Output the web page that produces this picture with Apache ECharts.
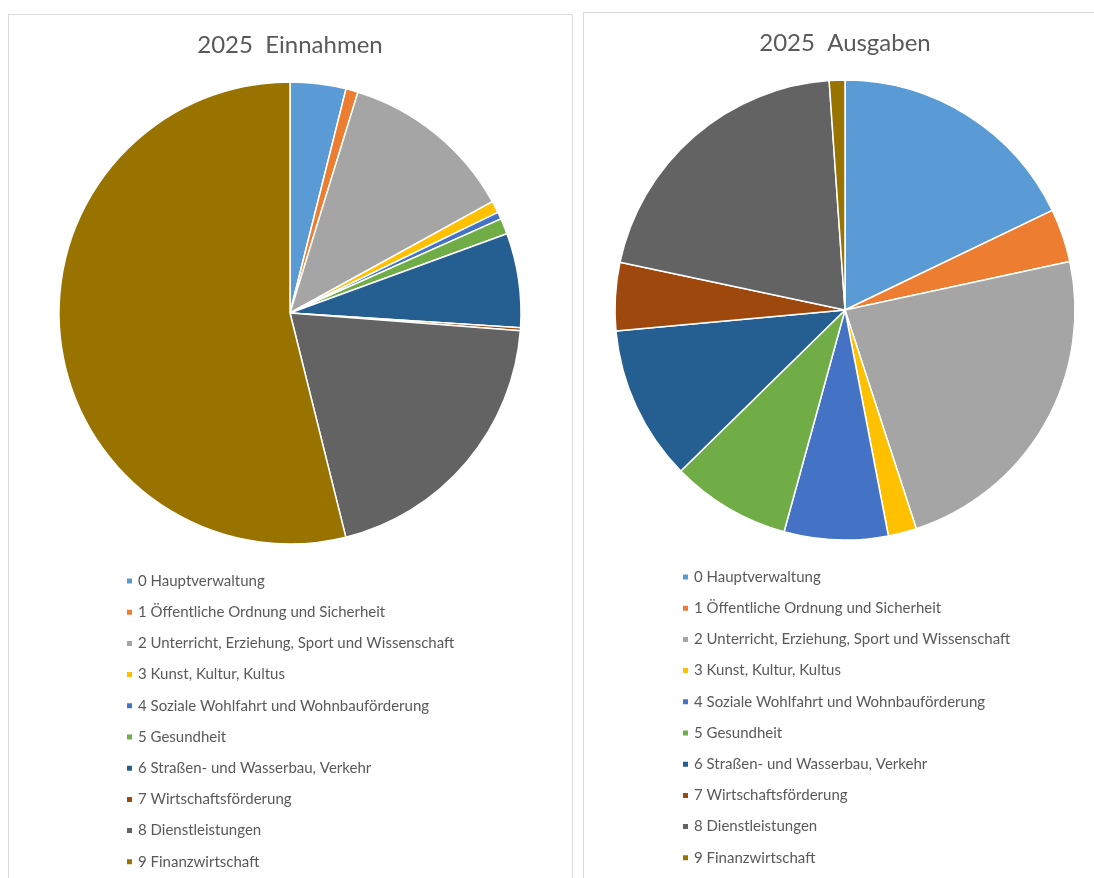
<!DOCTYPE html>
<html>
<head>
<meta charset="utf-8">
<title>2025 Einnahmen / Ausgaben</title>
<script src="https://cdn.jsdelivr.net/npm/echarts@6/dist/echarts.min.js"></script>
<style>
  html, body { margin: 0; padding: 0; background: #fff; }
  #chart { width: 1094px; height: 878px; }
</style>
</head>
<body>
<div id="chart"></div>
<script>
// Budgetgruppen
const categories = [
  '0 Hauptverwaltung',
  '1 Öffentliche Ordnung und Sicherheit',
  '2 Unterricht, Erziehung, Sport und Wissenschaft',
  '3 Kunst, Kultur, Kultus',
  '4 Soziale Wohlfahrt und Wohnbauförderung',
  '5 Gesundheit',
  '6 Straßen- und Wasserbau, Verkehr',
  '7 Wirtschaftsförderung',
  '8 Dienstleistungen',
  '9 Finanzwirtschaft'
]
// Anteile in %, aus dem Bild geschätzt
const einnahmen = [3.9, 0.85, 12.25, 0.83, 0.5, 1.1, 6.6, 0.2, 19.9, 53.9]
const ausgaben = [17.9, 3.75, 23.4, 2.0, 7.3, 8.4, 10.9, 4.8, 20.6, 1.1]
const titles = ['2025  Einnahmen', '2025  Ausgaben']

const colors = ['#5B9BD5', '#ED7D31', '#A5A5A5', '#FFC000', '#4472C4',
  '#70AD47', '#255E91', '#9E480E', '#636363', '#997300']
const font = 'Lato, "Open Sans", sans-serif'

const toData = (vals) => categories.map((name, i) => ({ name, value: vals[i] }))

const pieSeries = (name, vals, center, radius) => ({
  name,
  type: 'pie',
  center,
  radius,
  startAngle: 90,
  clockwise: true,
  label: { show: false },
  labelLine: { show: false },
  emphasis: { disabled: true },
  itemStyle: { borderColor: '#fff', borderWidth: 1.5 },
  data: toData(vals)
})

const legend = (left, top) => ({
  orient: 'vertical',
  left,
  top,
  height: 320,
  padding: 0,
  data: categories,
  icon: 'rect',
  itemWidth: 7,
  itemHeight: 7,
  itemGap: 15.2,
  selectedMode: false,
  textStyle: { color: '#595959', fontSize: 15, fontFamily: font, lineHeight: 16 }
})

const chart = echarts.init(document.getElementById('chart'))
chart.setOption({
  animation: false,
  color: colors,
  graphic: [
    { type: 'rect', shape: { x: 8.5, y: 14.5, width: 564, height: 900 },
      style: { fill: 'none', stroke: '#d9d9d9', lineWidth: 1 }, z: -1 },
    { type: 'rect', shape: { x: 583.5, y: 12.5, width: 600, height: 900 },
      style: { fill: 'none', stroke: '#d9d9d9', lineWidth: 1 }, z: -1 },
    { type: 'text', x: 290, y: 45,
      style: { text: titles[0], fill: '#595959', fontSize: 24, fontFamily: font, align: 'center', verticalAlign: 'middle' } },
    { type: 'text', x: 845, y: 43,
      style: { text: titles[1], fill: '#595959', fontSize: 24, fontFamily: font, align: 'center', verticalAlign: 'middle' } }
  ],
  legend: [legend(125, 573), legend(681, 569)],
  series: [
    pieSeries('2025 Einnahmen', einnahmen, [290, 313], 231),
    pieSeries('2025 Ausgaben', ausgaben, [845, 310], 230)
  ]
})
window.addEventListener('resize', () => chart.resize())
</script>
</body>
</html>
